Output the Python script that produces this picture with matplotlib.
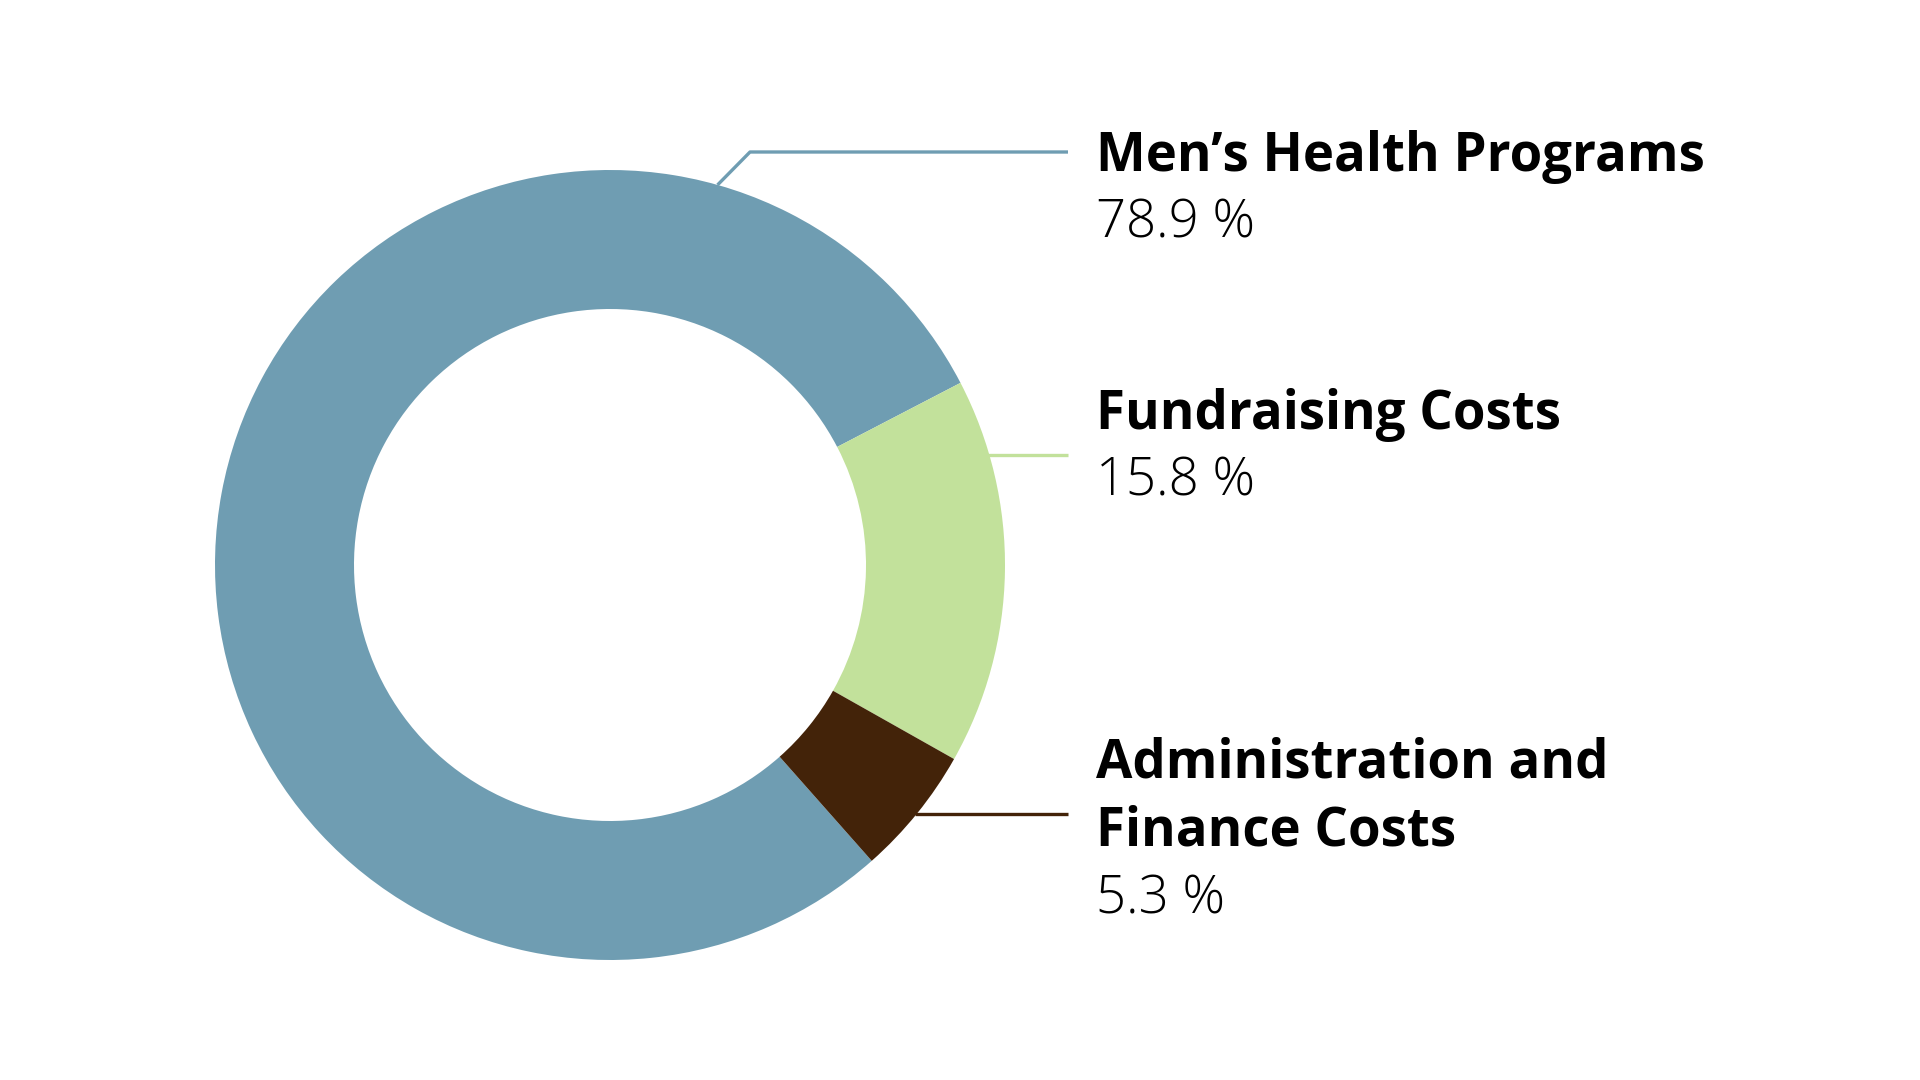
import numpy as np
import matplotlib
matplotlib.use("Agg")
import matplotlib.pyplot as plt

# ---- data ----
categories = ["Men’s Health Programs", "Fundraising Costs", "Administration and\nFinance Costs"]
values = [78.9, 15.8, 5.3]
pct_labels = ["78.9 %", "15.8 %", "5.3 %"]
colors = ["#6F9DB2", "#C2E19B", "#432309"]

W, H = 1920, 1080
fig = plt.figure(figsize=(W / 100, H / 100), dpi=100)
fig.patch.set_facecolor("white")
ax = fig.add_axes([0, 0, 1, 1])

cx, cy = 610, H - 565
R = 395
ring = 139
wedges, _ = ax.pie(values, colors=colors, startangle=-48.5, counterclock=False,
                   radius=R, center=(cx, cy),
                   wedgeprops=dict(width=ring, edgecolor="none", linewidth=0))
ax.set_xlim(0, W)
ax.set_ylim(0, H)
ax.set_aspect("equal")
ax.axis("off")

# ---- leader lines ----
lw = 2.4
line_end = 1068
a = np.deg2rad(74.2)
p0 = (cx + R * np.cos(a), cy + R * np.sin(a))
elbow_y = H - 152
elbow_x = 750
ax.plot([p0[0], elbow_x, line_end], [p0[1], elbow_y, elbow_y], color=colors[0], lw=lw,
        solid_capstyle="butt")
for yy, c in [(H - 455, colors[1]), (H - 814, colors[2])]:
    dy = yy - cy
    x0 = cx + np.sqrt(R ** 2 - dy ** 2) - 2
    ax.plot([x0, line_end], [yy, yy], color=c, lw=lw, solid_capstyle="butt")

# ---- labels ----
tx = 1096
title_font = dict(family=["Open Sans", "DejaVu Sans"], fontweight="bold", fontsize=38, color="#000000")
pct_font = dict(family=["Open Sans", "DejaVu Sans"], fontweight="light", fontsize=38, color="#000000")
baselines = [[171, 237], [429, 496], [777, 845, 913]]
for cat, pct, bl in zip(categories, pct_labels, baselines):
    lines = cat.split("\n")
    for ln, b in zip(lines, bl):
        ax.text(tx, H - b, ln, va="baseline", ha="left", **title_font)
    ax.text(tx, H - bl[-1], pct, va="baseline", ha="left", **pct_font)

fig.savefig("out.png", dpi=100, facecolor="white")
